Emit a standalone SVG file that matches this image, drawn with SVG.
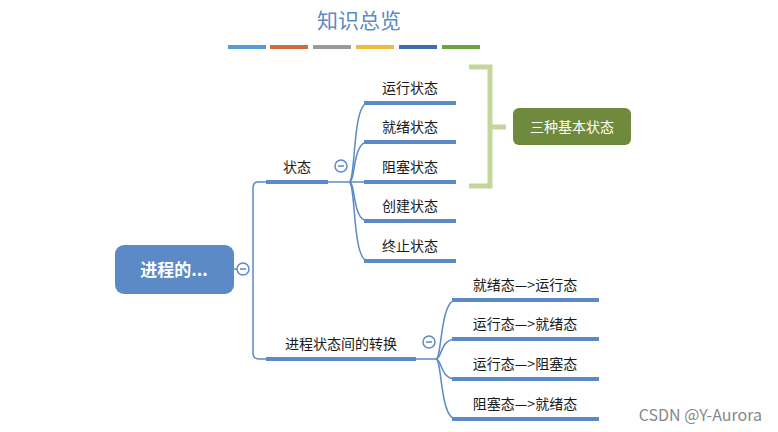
<svg xmlns="http://www.w3.org/2000/svg" width="778" height="432" viewBox="0 0 778 432">
<style>
text{font-family:"Noto Sans CJK SC","Liberation Sans",sans-serif;}
.t{font-size:14px;fill:#1a1a1a;}
.ul{stroke:#5b8ac6;stroke-width:4;}
.c{fill:none;stroke:#5b8ac6;stroke-width:1.5;}
.btn{fill:#fff;stroke:#5b8ac6;stroke-width:1.5;}
</style>
<rect width="778" height="432" fill="#fff"/>
<text x="359" y="28" font-size="21" fill="#5b8ac6" text-anchor="middle">知识总览</text>
<g stroke-width="4">
<line x1="228" y1="47" x2="266" y2="47" stroke="#5b9bd5"/>
<line x1="270" y1="47" x2="308" y2="47" stroke="#d0693e"/>
<line x1="313" y1="47" x2="351" y2="47" stroke="#9a9a9a"/>
<line x1="356" y1="47" x2="394" y2="47" stroke="#f0b93c"/>
<line x1="399" y1="47" x2="437" y2="47" stroke="#3f6cb5"/>
<line x1="442" y1="47" x2="480" y2="47" stroke="#6aa33f"/>
</g>
<g id="connectors">
<path class="c" d="M266,182 H258 Q253,182 253,188 V353 Q253,359 259,359 H266"/>
<path class="c" d="M234,269 H237"/>
<path class="c" d="M328,182 H364"/>
<path class="c" d="M349,182 C356,182 352,103 368,103"/>
<path class="c" d="M349,182 C356,182 352,142 368,142"/>
<path class="c" d="M349,182 C356,182 352,221 368,221"/>
<path class="c" d="M349,182 C356,182 352,261 368,261"/>
<path class="c" d="M416,359 H436"/>
<path class="c" d="M436,359 C442,359 440,300 456,300"/>
<path class="c" d="M436,359 C442,359 440,339 456,339"/>
<path class="c" d="M436,359 C442,359 440,379 456,379"/>
<path class="c" d="M436,359 C442,359 440,419 456,419"/>
<path d="M469,67 H490 V186 H469 M490,127 H506" fill="none" stroke="#c3d69b" stroke-width="5"/>
</g>
<g id="root">
<rect x="115" y="245" width="119" height="49" rx="9" fill="#5b8ac6"/>
<text x="174" y="276" font-size="17" font-weight="bold" fill="#fff" text-anchor="middle">进程的...</text>
<circle class="btn" cx="243" cy="269" r="6"/><line x1="240" y1="269" x2="246" y2="269" stroke="#5b8ac6" stroke-width="1.5"/>
</g>
<g id="state">
<line class="ul" x1="266" y1="182" x2="328" y2="182"/>
<text class="t" x="297" y="172" text-anchor="middle">状态</text>
<circle class="btn" cx="341" cy="166" r="6"/><line x1="338" y1="166" x2="344" y2="166" stroke="#5b8ac6" stroke-width="1.5"/>
</g>
<g id="s1"><line class="ul" x1="364" y1="103" x2="456" y2="103"/><text class="t" x="410" y="93" text-anchor="middle">运行状态</text></g>
<g id="s2"><line class="ul" x1="364" y1="142" x2="456" y2="142"/><text class="t" x="410" y="132" text-anchor="middle">就绪状态</text></g>
<g id="s3"><line class="ul" x1="364" y1="182" x2="456" y2="182"/><text class="t" x="410" y="172" text-anchor="middle">阻塞状态</text></g>
<g id="s4"><line class="ul" x1="364" y1="221" x2="456" y2="221"/><text class="t" x="410" y="211" text-anchor="middle">创建状态</text></g>
<g id="s5"><line class="ul" x1="364" y1="261" x2="456" y2="261"/><text class="t" x="410" y="251" text-anchor="middle">终止状态</text></g>
<g id="basic">
<rect x="513" y="108" width="118" height="37" rx="6" fill="#6f8a3c"/>
<text x="572" y="132" font-size="14" fill="#fff" text-anchor="middle">三种基本状态</text>
</g>
<g id="trans">
<line class="ul" x1="266" y1="359" x2="416" y2="359"/>
<text class="t" x="341" y="349" text-anchor="middle">进程状态间的转换</text>
<circle class="btn" cx="429" cy="342" r="6"/><line x1="426" y1="342" x2="432" y2="342" stroke="#5b8ac6" stroke-width="1.5"/>
</g>
<g id="t1"><line class="ul" x1="452" y1="300" x2="599" y2="300"/><text class="t" x="525" y="290" text-anchor="middle">就绪态—&gt;运行态</text></g>
<g id="t2"><line class="ul" x1="452" y1="339" x2="599" y2="339"/><text class="t" x="525" y="329" text-anchor="middle">运行态—&gt;就绪态</text></g>
<g id="t3"><line class="ul" x1="452" y1="379" x2="599" y2="379"/><text class="t" x="525" y="369" text-anchor="middle">运行态—&gt;阻塞态</text></g>
<g id="t4"><line class="ul" x1="452" y1="419" x2="599" y2="419"/><text class="t" x="525" y="409" text-anchor="middle">阻塞态—&gt;就绪态</text></g>
<text x="762" y="421" font-size="16" fill="#888" text-anchor="end" font-family="Liberation Sans,sans-serif">CSDN @Y-Aurora</text>
</svg>
